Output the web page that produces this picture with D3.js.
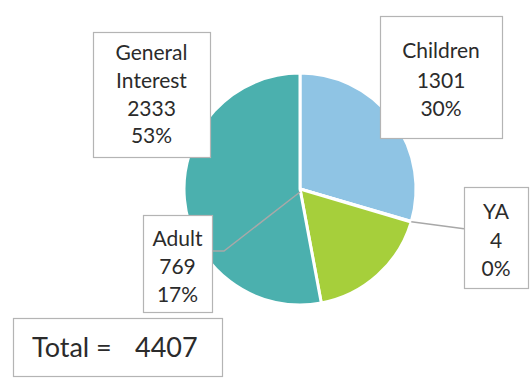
<!DOCTYPE html>
<html>
<head>
<meta charset="utf-8">
<script src="https://cdn.jsdelivr.net/npm/d3@7"></script>
<style>
  body { margin: 0; background: #fff; }
  svg { display: block; }
</style>
</head>
<body>
<div id="chart"></div>
<script>
// data
let categories = ['Children', 'YA', 'Adult', 'General Interest']
let counts = [1301, 4, 769, 2333]
let colors = ['#8fc4e4', '#c9dd7a', '#a6cf3b', '#4bb0ae']

// layout
let w = 531, h = 378
let cx = 300, cy = 189, r = 116
let font = 'Lato, "Open Sans", sans-serif'

// label boxes (x, y, w, h, line centers)
let boxes = {
  'Children': { x: 380, y: 16, w: 122, h: 122, lines: [50, 80, 108] },
  'YA': { x: 464, y: 187, w: 64, h: 101, lines: [211, 240, 268] },
  'Adult': { x: 143, y: 215, w: 69, h: 97, lines: [238, 266, 294] },
  'General Interest': { x: 93, y: 32, w: 117, h: 125, lines: [52, 80, 108, 135] }
}

let total = d3.sum(counts)
let pct = d3.format('.0%')

let svg = d3.select('#chart').append('svg')
  .attr('width', w)
  .attr('height', h)

let pie = d3.pie().sort(null).value(d => d.v)
let arcs = pie(categories.map((c, i) => ({ c: c, v: counts[i], col: colors[i] })))
let arc = d3.arc().innerRadius(0).outerRadius(r)

let g = svg.append('g').attr('transform', `translate(${cx},${cy})`)
g.selectAll('path')
  .data(arcs)
  .enter()
  .append('path')
  .attr('d', arc)
  .attr('fill', d => d.data.col)
  .attr('stroke', '#fff')
  .attr('stroke-width', 3)
  .attr('stroke-linejoin', 'round')

// leader lines
let ya = arcs[1]
let yaAng = (ya.startAngle + ya.endAngle) / 2
let yaPt = [cx + Math.sin(yaAng) * r, cy - Math.cos(yaAng) * r]
let yaBox = boxes['YA']
svg.append('path')
  .attr('d', d3.line()([yaPt, [yaBox.x, yaPt[1] + 7]]))
  .attr('fill', 'none')
  .attr('stroke', '#a8a8a8')
  .attr('stroke-width', 1.5)

let adBox = boxes['Adult']
svg.append('path')
  .attr('d', d3.line()([[cx, cy + 3], [adBox.x + adBox.w + 12, 251], [adBox.x + adBox.w, 251]]))
  .attr('fill', 'none')
  .attr('stroke', '#a8a8a8')
  .attr('stroke-width', 1.5)

// label boxes
arcs.forEach(d => {
  let b = boxes[d.data.c]
  let words = d.data.c.split(' ')
  let lines = words.concat([d3.format('d')(d.data.v), pct(d.data.v / total)])
  let lg = svg.append('g')
  lg.append('rect')
    .attr('x', b.x + 0.5)
    .attr('y', b.y + 0.5)
    .attr('width', b.w)
    .attr('height', b.h)
    .attr('fill', '#fff')
    .attr('stroke', '#b4b4b4')
    .attr('stroke-width', 1.2)
  lg.selectAll('text')
    .data(lines)
    .enter()
    .append('text')
    .text(t => t)
    .attr('x', b.x + b.w / 2)
    .attr('y', (t, i) => b.lines[i])
    .attr('dy', '0.36em')
    .attr('text-anchor', 'middle')
    .attr('font-family', font)
    .attr('font-size', '21px')
    .attr('fill', '#2b2b2b')
})

// total box
let tg = svg.append('g')
tg.append('rect')
  .attr('x', 13.5)
  .attr('y', 318.5)
  .attr('width', 209)
  .attr('height', 58)
  .attr('fill', '#fff')
  .attr('stroke', '#b4b4b4')
  .attr('stroke-width', 1.2)
tg.append('text')
  .text('Total =')
  .attr('x', 32)
  .attr('y', 347)
  .attr('dy', '0.36em')
  .attr('font-family', font)
  .attr('font-size', '27px')
  .attr('fill', '#2b2b2b')
tg.append('text')
  .text(total)
  .attr('x', 135)
  .attr('y', 347)
  .attr('dy', '0.36em')
  .attr('font-family', font)
  .attr('font-size', '27px')
  .attr('fill', '#2b2b2b')
</script>
</body>
</html>
